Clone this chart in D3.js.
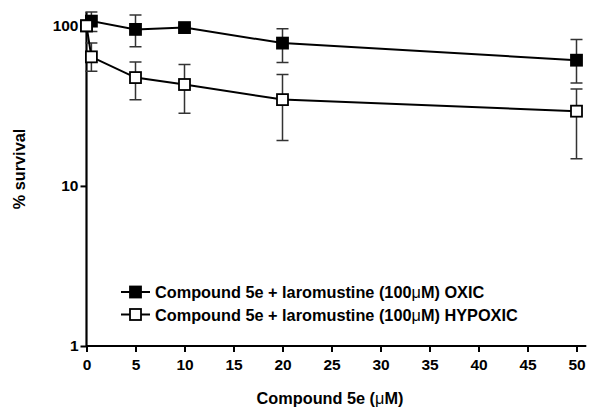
<!DOCTYPE html>
<html><head><meta charset="utf-8">
<script src="https://cdn.jsdelivr.net/npm/d3@7"></script>
<style>body{margin:0;background:#fff}svg{display:block}</style>
</head><body><svg id="c" width="600" height="420"></svg>
<script>
const concentrations = [0, 0.5, 5, 10, 20, 50];
const oxicMean = [100, 107, 95, 97.5, 78, 61];
const oxicErrUp = [0, 15, 22, 2, 18, 21];
const oxicErrDown = [0, 15, 21, 2, 19, 17];
const hypoxicMean = [100, 64, 47.5, 43, 34.6, 29.3];
const hypoxicErrUp = [0, 14, 12, 14.4, 15, 11];
const hypoxicErrDown = [0, 12, 13, 14.6, 15.4, 14.5];
const xTicks = [0, 5, 10, 15, 20, 25, 30, 35, 40, 45, 50];
const yTicks = [1, 10, 100];
const seriesNames = ["Compound 5e + laromustine (100", "Compound 5e + laromustine (100"];
const seriesSuffix = ["M) OXIC", "M) HYPOXIC"];

const svg = d3.select("#c");
const x = d3.scaleLinear().domain([0, 51]).range([86.5, 586.3]);
const y = d3.scaleLog().domain([1, 122]).range([346, 12]);
const font = "'Liberation Sans', Arial, sans-serif";

const xAxis = svg.append("g").attr("transform", "translate(0,346)")
  .call(d3.axisBottom(x).tickValues(xTicks).tickSize(6).tickPadding(7).tickFormat(d3.format("d")));
const yAxis = svg.append("g").attr("transform", "translate(86.5,0)")
  .call(d3.axisLeft(y).tickValues(yTicks).tickSize(6).tickPadding(2).tickFormat(d3.format("d")));
[xAxis, yAxis].forEach(a => {
  a.selectAll("path.domain").attr("stroke", "#000").attr("stroke-width", 2.2);
  a.selectAll(".tick line").attr("stroke", "#000").attr("stroke-width", 2);
  a.selectAll("text").attr("fill", "#000").attr("font-family", font)
    .attr("font-size", 15.5).attr("font-weight", "bold");
});
xAxis.select("path.domain").attr("d", `M86.5,0H586.3`);
yAxis.select("path.domain").attr("d", `M0,346V12`);

const series = [
  {mean: oxicMean, up: oxicErrUp, down: oxicErrDown, fill: "#000"},
  {mean: hypoxicMean, up: hypoxicErrUp, down: hypoxicErrDown, fill: "#fff"}
];
const line = d3.line().x(d => x(d.c)).y(d => y(d.m));
const ms = 11;
series.forEach(s => {
  const pts = concentrations.map((c, i) => ({c, m: s.mean[i], u: s.up[i], d: s.down[i]}));
  const g = svg.append("g");
  pts.filter(p => p.u > 0).forEach(p => {
    const top = y(p.m + p.u), bot = y(Math.max(p.m - p.d, 1));
    g.append("path").attr("d", `M${x(p.c)},${top}V${bot}M${x(p.c) - 6},${top}h12M${x(p.c) - 6},${bot}h12`)
      .attr("stroke", "#333").attr("stroke-width", 1.5).attr("fill", "none");
  });
  g.append("path").attr("d", line(pts)).attr("stroke", "#000").attr("stroke-width", 2).attr("fill", "none");
  g.selectAll("rect").data(pts).join("rect")
    .attr("x", d => x(d.c) - ms / 2).attr("y", d => y(d.m) - ms / 2)
    .attr("width", ms).attr("height", ms)
    .attr("fill", s.fill).attr("stroke", "#000").attr("stroke-width", 1.8);
});

// legend
const leg = svg.append("g");
[0, 1].forEach(i => {
  const ly = 292 + i * 22.5;
  leg.append("line").attr("x1", 121).attr("x2", 150).attr("y1", ly).attr("y2", ly)
    .attr("stroke", "#000").attr("stroke-width", 2);
  leg.append("rect").attr("x", 135.5 - ms / 2).attr("y", ly - ms / 2).attr("width", ms).attr("height", ms)
    .attr("fill", series[i].fill).attr("stroke", "#000").attr("stroke-width", 1.8);
  const t = leg.append("text").attr("x", 155).attr("y", ly + 6)
    .attr("font-family", font).attr("font-size", 16.3).attr("font-weight", "bold");
  t.append("tspan").text(seriesNames[i]);
  t.append("tspan").attr("font-weight", "normal").text("\u03bc");
  t.append("tspan").text(seriesSuffix[i]);
});

// axis titles
const xt = svg.append("text").attr("x", 330).attr("y", 404).attr("text-anchor", "middle")
  .attr("font-family", font).attr("font-size", 16.3).attr("font-weight", "bold");
xt.append("tspan").text("Compound 5e (");
xt.append("tspan").attr("font-weight", "normal").text("\u03bc");
xt.append("tspan").text("M)");
svg.append("text").attr("transform", "translate(25,169) rotate(-90)").attr("text-anchor", "middle")
  .attr("font-family", font).attr("font-size", 16.3).attr("font-weight", "bold").text("% survival");
</script></body></html>
